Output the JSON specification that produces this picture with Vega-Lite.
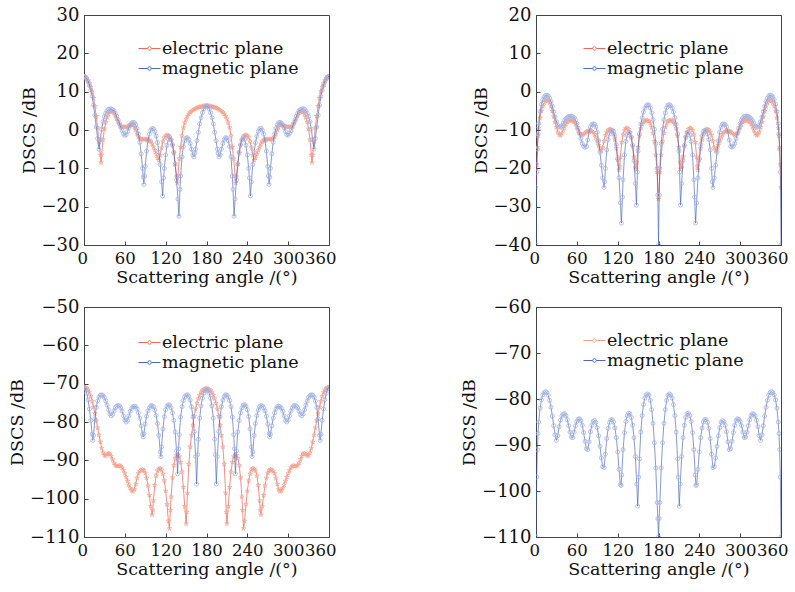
{
"$schema":"https://vega.github.io/schema/vega-lite/v6.json",
"background":"white",
"padding":{"left":8,"top":5,"right":0,"bottom":2},
"config":{"font":"DejaVu Serif","view":{"stroke":"#444","strokeWidth":1},
"axis":{"grid":false,"domainColor":"#444","tickColor":"#444","tickSize":-4,"labelOverlap":false,"labelPadding":6,"labelFontSize":18,"titleFontSize":17.5,"labelFont":"DejaVu Serif","titleFont":"DejaVu Serif","titleFontWeight":"normal","labelColor":"#111","titleColor":"#111","titlePadding":4},
"axisX":{"labelFlush":true,"labelFlushOffset":7,"labelFontSize":16.5,"labelPadding":9,"titlePadding":2},
"axisY":{"labelPadding":9,"titlePadding":3,"labelFlush":false},
"legend":{"orient":"none","title":null,"padding":0,"rowPadding":0,"labelOffset":1,"labelFontSize":17.5,"labelFont":"DejaVu Serif","labelColor":"#111","labelLimit":0,"symbolSize":484,"symbolStrokeWidth":1,"symbolFillColor":"transparent","symbolType":"M-1,0H-0.18M0.18,0H1M0.16,0A0.16,0.16,0,1,1,-0.16,0A0.16,0.16,0,1,1,0.16,0"}},
"datasets":{
"aM":[{"x":0,"y":14},{"x":2,"y":13.8},{"x":4,"y":13.3},{"x":6,"y":12.6},{"x":8,"y":11.6},{"x":10,"y":10.4},{"x":12,"y":8.8},{"x":14,"y":6.5},{"x":16,"y":3.8},{"x":18,"y":0.8},{"x":20,"y":-2.2},{"x":22,"y":-5},{"x":24,"y":-2.5},{"x":26,"y":0.2},{"x":28,"y":2.2},{"x":30,"y":3.5},{"x":32,"y":4.4},{"x":34,"y":5},{"x":36,"y":5.4},{"x":38,"y":5.5},{"x":40,"y":5.5},{"x":42,"y":5.3},{"x":44,"y":5},{"x":46,"y":4.4},{"x":48,"y":3.6},{"x":50,"y":2.7},{"x":52,"y":1.7},{"x":54,"y":0.7},{"x":56,"y":-0.2},{"x":58,"y":-0.9},{"x":60,"y":-1.4},{"x":62,"y":-1.2},{"x":64,"y":-0.4},{"x":66,"y":0.6},{"x":68,"y":1.3},{"x":70,"y":1.8},{"x":72,"y":2},{"x":74,"y":1.9},{"x":76,"y":1.4},{"x":78,"y":0.4},{"x":80,"y":-1},{"x":82,"y":-3.2},{"x":84,"y":-6.2},{"x":86,"y":-10},{"x":87,"y":-12.3},{"x":88,"y":-14.2},{"x":89,"y":-12},{"x":90,"y":-9.5},{"x":92,"y":-5.5},{"x":94,"y":-2.8},{"x":96,"y":-1.1},{"x":98,"y":-0.1},{"x":100,"y":0.4},{"x":102,"y":0.3},{"x":104,"y":-0.4},{"x":106,"y":-1.6},{"x":108,"y":-3.3},{"x":110,"y":-5.8},{"x":112,"y":-9},{"x":114,"y":-13.5},{"x":115.5,"y":-17.2},{"x":117,"y":-12.5},{"x":118,"y":-10},{"x":120,"y":-6.5},{"x":122,"y":-4},{"x":124,"y":-2.4},{"x":126,"y":-2},{"x":128,"y":-2.5},{"x":130,"y":-3.8},{"x":132,"y":-5.8},{"x":134,"y":-9},{"x":136,"y":-13},{"x":138,"y":-18},{"x":139.5,"y":-22.5},{"x":141,"y":-15.5},{"x":142,"y":-12},{"x":144,"y":-7},{"x":146,"y":-4.3},{"x":148,"y":-2.8},{"x":150,"y":-2.1},{"x":152,"y":-2},{"x":154,"y":-2.5},{"x":156,"y":-3.5},{"x":158,"y":-5},{"x":160,"y":-6.5},{"x":161.6,"y":-7},{"x":163,"y":-6},{"x":164,"y":-5},{"x":166,"y":-2.8},{"x":168,"y":-0.6},{"x":170,"y":1.6},{"x":172,"y":3.2},{"x":174,"y":4.5},{"x":176,"y":5.5},{"x":178,"y":6.1},{"x":180,"y":6.3},
{"x":182,"y":6.1},{"x":184,"y":5.5},{"x":186,"y":4.5},{"x":188,"y":3.2},{"x":190,"y":1.6},{"x":192,"y":-0.6},{"x":194,"y":-2.8},{"x":196,"y":-5},{"x":197,"y":-6},{"x":198.4,"y":-7},{"x":200,"y":-6.5},{"x":202,"y":-5},{"x":204,"y":-3.5},{"x":206,"y":-2.5},{"x":208,"y":-2},{"x":210,"y":-2.1},{"x":212,"y":-2.8},{"x":214,"y":-4.3},{"x":216,"y":-7},{"x":218,"y":-12},{"x":219,"y":-15.5},{"x":220.5,"y":-22.5},{"x":222,"y":-18},{"x":224,"y":-13},{"x":226,"y":-9},{"x":228,"y":-5.8},{"x":230,"y":-3.8},{"x":232,"y":-2.5},{"x":234,"y":-2},{"x":236,"y":-2.4},{"x":238,"y":-4},{"x":240,"y":-6.5},{"x":242,"y":-10},{"x":243,"y":-12.5},{"x":244.5,"y":-17.2},{"x":246,"y":-13.5},{"x":248,"y":-9},{"x":250,"y":-5.8},{"x":252,"y":-3.3},{"x":254,"y":-1.6},{"x":256,"y":-0.4},{"x":258,"y":0.3},{"x":260,"y":0.4},{"x":262,"y":-0.1},{"x":264,"y":-1.1},{"x":266,"y":-2.8},{"x":268,"y":-5.5},{"x":270,"y":-9.5},{"x":271,"y":-12},{"x":272,"y":-14.2},{"x":273,"y":-12.3},{"x":274,"y":-10},{"x":276,"y":-6.2},{"x":278,"y":-3.2},{"x":280,"y":-1},{"x":282,"y":0.4},{"x":284,"y":1.4},{"x":286,"y":1.9},{"x":288,"y":2},{"x":290,"y":1.8},{"x":292,"y":1.3},{"x":294,"y":0.6},{"x":296,"y":-0.4},{"x":298,"y":-1.2},{"x":300,"y":-1.4},{"x":302,"y":-0.9},{"x":304,"y":-0.2},{"x":306,"y":0.7},{"x":308,"y":1.7},{"x":310,"y":2.7},{"x":312,"y":3.6},{"x":314,"y":4.4},{"x":316,"y":5},{"x":318,"y":5.3},{"x":320,"y":5.5},{"x":322,"y":5.5},{"x":324,"y":5.4},{"x":326,"y":5},{"x":328,"y":4.4},{"x":330,"y":3.5},{"x":332,"y":2.2},{"x":334,"y":0.2},{"x":336,"y":-2.5},{"x":338,"y":-5},{"x":340,"y":-2.2},{"x":342,"y":0.8},{"x":344,"y":3.8},{"x":346,"y":6.5},{"x":348,"y":8.8},{"x":350,"y":10.4},{"x":352,"y":11.6},{"x":354,"y":12.6},{"x":356,"y":13.3},{"x":358,"y":13.8},{"x":360,"y":14}],
"aE":[{"x":0,"y":14},{"x":2,"y":13.9},{"x":4,"y":13.5},{"x":6,"y":12.9},{"x":8,"y":12.1},{"x":10,"y":11.2},{"x":12,"y":10},{"x":14,"y":8.3},{"x":16,"y":6.2},{"x":18,"y":3.6},{"x":20,"y":0.6},{"x":22,"y":-3},{"x":24,"y":-6.5},{"x":25,"y":-8.5},{"x":26,"y":-6.5},{"x":28,"y":-2.5},{"x":30,"y":0.3},{"x":32,"y":2},{"x":34,"y":3.3},{"x":36,"y":4.2},{"x":38,"y":4.7},{"x":40,"y":4.9},{"x":42,"y":4.8},{"x":44,"y":4.4},{"x":46,"y":3.8},{"x":48,"y":3},{"x":50,"y":2.2},{"x":52,"y":1.5},{"x":54,"y":1},{"x":56,"y":0.8},{"x":58,"y":0.8},{"x":60,"y":0.8},{"x":62,"y":0.8},{"x":64,"y":0.9},{"x":66,"y":1.1},{"x":68,"y":1.3},{"x":70,"y":1.4},{"x":72,"y":1.2},{"x":74,"y":0.8},{"x":76,"y":0},{"x":78,"y":-1},{"x":80,"y":-1.8},{"x":82,"y":-2.2},{"x":84,"y":-2.4},{"x":86,"y":-2.4},{"x":88,"y":-2.4},{"x":90,"y":-2.4},{"x":92,"y":-2.4},{"x":94,"y":-2.4},{"x":96,"y":-2.6},{"x":98,"y":-3},{"x":100,"y":-3.6},{"x":102,"y":-4.4},{"x":104,"y":-5.3},{"x":106,"y":-6.3},{"x":108,"y":-7.3},{"x":110,"y":-7.9},{"x":112,"y":-6.6},{"x":114,"y":-4.6},{"x":116,"y":-3},{"x":118,"y":-2},{"x":120,"y":-1.5},{"x":122,"y":-1.3},{"x":124,"y":-1.4},{"x":126,"y":-1.8},{"x":128,"y":-2.7},{"x":130,"y":-4},{"x":132,"y":-6},{"x":134,"y":-8.8},{"x":136,"y":-12.2},{"x":137,"y":-13.8},{"x":138,"y":-12},{"x":140,"y":-7.5},{"x":142,"y":-4.5},{"x":144,"y":-1.5},{"x":146,"y":0.6},{"x":148,"y":1.9},{"x":150,"y":2.9},{"x":152,"y":3.6},{"x":154,"y":4.2},{"x":156,"y":4.6},{"x":158,"y":4.9},{"x":160,"y":5.2},{"x":162,"y":5.4},{"x":164,"y":5.6},{"x":166,"y":5.8},{"x":168,"y":5.9},{"x":170,"y":6},{"x":172,"y":6.1},{"x":174,"y":6.2},{"x":176,"y":6.3},{"x":178,"y":6.3},{"x":180,"y":6.3},
{"x":182,"y":6.3},{"x":184,"y":6.3},{"x":186,"y":6.2},{"x":188,"y":6.1},{"x":190,"y":6},{"x":192,"y":5.9},{"x":194,"y":5.8},{"x":196,"y":5.6},{"x":198,"y":5.4},{"x":200,"y":5.2},{"x":202,"y":4.9},{"x":204,"y":4.6},{"x":206,"y":4.2},{"x":208,"y":3.6},{"x":210,"y":2.9},{"x":212,"y":1.9},{"x":214,"y":0.6},{"x":216,"y":-1.5},{"x":218,"y":-4.5},{"x":220,"y":-7.5},{"x":222,"y":-12},{"x":223,"y":-13.8},{"x":224,"y":-12.2},{"x":226,"y":-8.8},{"x":228,"y":-6},{"x":230,"y":-4},{"x":232,"y":-2.7},{"x":234,"y":-1.8},{"x":236,"y":-1.4},{"x":238,"y":-1.3},{"x":240,"y":-1.5},{"x":242,"y":-2},{"x":244,"y":-3},{"x":246,"y":-4.6},{"x":248,"y":-6.6},{"x":250,"y":-7.9},{"x":252,"y":-7.3},{"x":254,"y":-6.3},{"x":256,"y":-5.3},{"x":258,"y":-4.4},{"x":260,"y":-3.6},{"x":262,"y":-3},{"x":264,"y":-2.6},{"x":266,"y":-2.4},{"x":268,"y":-2.4},{"x":270,"y":-2.4},{"x":272,"y":-2.4},{"x":274,"y":-2.4},{"x":276,"y":-2.4},{"x":278,"y":-2.2},{"x":280,"y":-1.8},{"x":282,"y":-1},{"x":284,"y":0},{"x":286,"y":0.8},{"x":288,"y":1.2},{"x":290,"y":1.4},{"x":292,"y":1.3},{"x":294,"y":1.1},{"x":296,"y":0.9},{"x":298,"y":0.8},{"x":300,"y":0.8},{"x":302,"y":0.8},{"x":304,"y":0.8},{"x":306,"y":1},{"x":308,"y":1.5},{"x":310,"y":2.2},{"x":312,"y":3},{"x":314,"y":3.8},{"x":316,"y":4.4},{"x":318,"y":4.8},{"x":320,"y":4.9},{"x":322,"y":4.7},{"x":324,"y":4.2},{"x":326,"y":3.3},{"x":328,"y":2},{"x":330,"y":0.3},{"x":332,"y":-2.5},{"x":334,"y":-6.5},{"x":335,"y":-8.5},{"x":336,"y":-6.5},{"x":338,"y":-3},{"x":340,"y":0.6},{"x":342,"y":3.6},{"x":344,"y":6.2},{"x":346,"y":8.3},{"x":348,"y":10},{"x":350,"y":11.2},{"x":352,"y":12.1},{"x":354,"y":12.9},{"x":356,"y":13.5},{"x":358,"y":13.9},{"x":360,"y":14}],
"bM":[{"x":0,"y":-40},{"x":1,"y":-21},{"x":2,"y":-15},{"x":3,"y":-11},{"x":4,"y":-8.3},{"x":6,"y":-5.2},{"x":8,"y":-3.3},{"x":10,"y":-2.1},{"x":12,"y":-1.4},{"x":14,"y":-1},{"x":16,"y":-0.9},{"x":18,"y":-1.1},{"x":20,"y":-1.7},{"x":22,"y":-2.6},{"x":24,"y":-3.8},{"x":26,"y":-5.2},{"x":28,"y":-6.6},{"x":30,"y":-7.8},{"x":32,"y":-8.7},{"x":34,"y":-9.2},{"x":36,"y":-9.3},{"x":38,"y":-8.9},{"x":40,"y":-8.2},{"x":42,"y":-7.5},{"x":44,"y":-7},{"x":46,"y":-6.7},{"x":48,"y":-6.5},{"x":50,"y":-6.4},{"x":52,"y":-6.4},{"x":54,"y":-6.5},{"x":56,"y":-6.8},{"x":58,"y":-7.4},{"x":60,"y":-8.3},{"x":62,"y":-9.5},{"x":64,"y":-10.9},{"x":66,"y":-12.3},{"x":68,"y":-13.5},{"x":70,"y":-14.2},{"x":72,"y":-14.5},{"x":74,"y":-14.3},{"x":76,"y":-12.6},{"x":78,"y":-10.5},{"x":80,"y":-9.2},{"x":82,"y":-8.6},{"x":84,"y":-8.4},{"x":86,"y":-8.5},{"x":88,"y":-9.2},{"x":90,"y":-10.6},{"x":92,"y":-12.8},{"x":94,"y":-15.8},{"x":96,"y":-19.2},{"x":98,"y":-22.5},{"x":100,"y":-25},{"x":101,"y":-23.5},{"x":102,"y":-20},{"x":104,"y":-15.2},{"x":106,"y":-12.5},{"x":108,"y":-11},{"x":110,"y":-10.3},{"x":112,"y":-10.1},{"x":114,"y":-10.4},{"x":116,"y":-11.6},{"x":118,"y":-13.8},{"x":120,"y":-17.5},{"x":122,"y":-22.5},{"x":124,"y":-29},{"x":125.5,"y":-34.3},{"x":127,"y":-27.5},{"x":128,"y":-23},{"x":130,"y":-16.5},{"x":132,"y":-13},{"x":134,"y":-11.3},{"x":136,"y":-10.6},{"x":138,"y":-10.7},{"x":140,"y":-11.8},{"x":142,"y":-14},{"x":144,"y":-18},{"x":146,"y":-24},{"x":147.6,"y":-29.6},{"x":149,"y":-21},{"x":150,"y":-15.5},{"x":152,"y":-11},{"x":154,"y":-8.5},{"x":156,"y":-6.8},{"x":158,"y":-5.3},{"x":160,"y":-4.3},{"x":162,"y":-3.7},{"x":164,"y":-3.4},{"x":166,"y":-3.5},{"x":168,"y":-4.2},{"x":170,"y":-5.5},{"x":172,"y":-7.3},{"x":174,"y":-9.8},{"x":176,"y":-13.5},{"x":178,"y":-20},{"x":179,"y":-27},{"x":180,"y":-40},
{"x":181,"y":-27},{"x":182,"y":-20},{"x":184,"y":-13.5},{"x":186,"y":-9.8},{"x":188,"y":-7.3},{"x":190,"y":-5.5},{"x":192,"y":-4.2},{"x":194,"y":-3.5},{"x":196,"y":-3.4},{"x":198,"y":-3.7},{"x":200,"y":-4.3},{"x":202,"y":-5.3},{"x":204,"y":-6.8},{"x":206,"y":-8.5},{"x":208,"y":-11},{"x":210,"y":-15.5},{"x":211,"y":-21},{"x":212.4,"y":-29.6},{"x":214,"y":-24},{"x":216,"y":-18},{"x":218,"y":-14},{"x":220,"y":-11.8},{"x":222,"y":-10.7},{"x":224,"y":-10.6},{"x":226,"y":-11.3},{"x":228,"y":-13},{"x":230,"y":-16.5},{"x":232,"y":-23},{"x":233,"y":-27.5},{"x":234.5,"y":-34.3},{"x":236,"y":-29},{"x":238,"y":-22.5},{"x":240,"y":-17.5},{"x":242,"y":-13.8},{"x":244,"y":-11.6},{"x":246,"y":-10.4},{"x":248,"y":-10.1},{"x":250,"y":-10.3},{"x":252,"y":-11},{"x":254,"y":-12.5},{"x":256,"y":-15.2},{"x":258,"y":-20},{"x":259,"y":-23.5},{"x":260,"y":-25},{"x":262,"y":-22.5},{"x":264,"y":-19.2},{"x":266,"y":-15.8},{"x":268,"y":-12.8},{"x":270,"y":-10.6},{"x":272,"y":-9.2},{"x":274,"y":-8.5},{"x":276,"y":-8.4},{"x":278,"y":-8.6},{"x":280,"y":-9.2},{"x":282,"y":-10.5},{"x":284,"y":-12.6},{"x":286,"y":-14.3},{"x":288,"y":-14.5},{"x":290,"y":-14.2},{"x":292,"y":-13.5},{"x":294,"y":-12.3},{"x":296,"y":-10.9},{"x":298,"y":-9.5},{"x":300,"y":-8.3},{"x":302,"y":-7.4},{"x":304,"y":-6.8},{"x":306,"y":-6.5},{"x":308,"y":-6.4},{"x":310,"y":-6.4},{"x":312,"y":-6.5},{"x":314,"y":-6.7},{"x":316,"y":-7},{"x":318,"y":-7.5},{"x":320,"y":-8.2},{"x":322,"y":-8.9},{"x":324,"y":-9.3},{"x":326,"y":-9.2},{"x":328,"y":-8.7},{"x":330,"y":-7.8},{"x":332,"y":-6.6},{"x":334,"y":-5.2},{"x":336,"y":-3.8},{"x":338,"y":-2.6},{"x":340,"y":-1.7},{"x":342,"y":-1.1},{"x":344,"y":-0.9},{"x":346,"y":-1},{"x":348,"y":-1.4},{"x":350,"y":-2.1},{"x":352,"y":-3.3},{"x":354,"y":-5.2},{"x":356,"y":-8.3},{"x":357,"y":-11},{"x":358,"y":-15},{"x":359,"y":-21},{"x":360,"y":-40}],
"bE":[{"x":0,"y":-25},{"x":1,"y":-19},{"x":2,"y":-14.5},{"x":3,"y":-11.5},{"x":4,"y":-9.5},{"x":6,"y":-6.8},{"x":8,"y":-5},{"x":10,"y":-3.8},{"x":12,"y":-2.9},{"x":14,"y":-2.4},{"x":16,"y":-2.1},{"x":18,"y":-2.3},{"x":20,"y":-2.9},{"x":22,"y":-3.9},{"x":24,"y":-5.1},{"x":26,"y":-6.5},{"x":28,"y":-7.9},{"x":30,"y":-9.3},{"x":32,"y":-10.5},{"x":34,"y":-11.2},{"x":36,"y":-11.4},{"x":38,"y":-10.9},{"x":40,"y":-10},{"x":42,"y":-9.1},{"x":44,"y":-8.4},{"x":46,"y":-7.9},{"x":48,"y":-7.6},{"x":50,"y":-7.5},{"x":52,"y":-7.5},{"x":54,"y":-7.6},{"x":56,"y":-7.9},{"x":58,"y":-8.5},{"x":60,"y":-9.3},{"x":62,"y":-10.1},{"x":64,"y":-10.8},{"x":66,"y":-11.2},{"x":68,"y":-11.3},{"x":70,"y":-11.1},{"x":72,"y":-10.8},{"x":74,"y":-10.5},{"x":76,"y":-10.3},{"x":78,"y":-10.2},{"x":80,"y":-10.2},{"x":82,"y":-10.3},{"x":84,"y":-10.6},{"x":86,"y":-11.2},{"x":88,"y":-12},{"x":90,"y":-13},{"x":92,"y":-14},{"x":94,"y":-14.9},{"x":96,"y":-15.4},{"x":98,"y":-14.6},{"x":100,"y":-12.9},{"x":102,"y":-11.4},{"x":104,"y":-10.5},{"x":106,"y":-10},{"x":108,"y":-9.8},{"x":110,"y":-9.8},{"x":112,"y":-10.1},{"x":114,"y":-11},{"x":116,"y":-12.5},{"x":118,"y":-14.8},{"x":120,"y":-17.8},{"x":122,"y":-20.4},{"x":123,"y":-19.5},{"x":124,"y":-17},{"x":126,"y":-13.2},{"x":128,"y":-11.2},{"x":130,"y":-10.1},{"x":132,"y":-9.6},{"x":134,"y":-9.5},{"x":136,"y":-9.8},{"x":138,"y":-10.6},{"x":140,"y":-12},{"x":142,"y":-14.2},{"x":144,"y":-17},{"x":146,"y":-19.8},{"x":147,"y":-20.2},{"x":148,"y":-18.5},{"x":150,"y":-14.5},{"x":152,"y":-11.5},{"x":154,"y":-9.6},{"x":156,"y":-8.5},{"x":158,"y":-7.9},{"x":160,"y":-7.6},{"x":162,"y":-7.5},{"x":164,"y":-7.5},{"x":166,"y":-7.7},{"x":168,"y":-8.3},{"x":170,"y":-9.3},{"x":172,"y":-10.8},{"x":174,"y":-13},{"x":176,"y":-16.5},{"x":178,"y":-21},{"x":180,"y":-28},
{"x":182,"y":-21},{"x":184,"y":-16.5},{"x":186,"y":-13},{"x":188,"y":-10.8},{"x":190,"y":-9.3},{"x":192,"y":-8.3},{"x":194,"y":-7.7},{"x":196,"y":-7.5},{"x":198,"y":-7.5},{"x":200,"y":-7.6},{"x":202,"y":-7.9},{"x":204,"y":-8.5},{"x":206,"y":-9.6},{"x":208,"y":-11.5},{"x":210,"y":-14.5},{"x":212,"y":-18.5},{"x":213,"y":-20.2},{"x":214,"y":-19.8},{"x":216,"y":-17},{"x":218,"y":-14.2},{"x":220,"y":-12},{"x":222,"y":-10.6},{"x":224,"y":-9.8},{"x":226,"y":-9.5},{"x":228,"y":-9.6},{"x":230,"y":-10.1},{"x":232,"y":-11.2},{"x":234,"y":-13.2},{"x":236,"y":-17},{"x":237,"y":-19.5},{"x":238,"y":-20.4},{"x":240,"y":-17.8},{"x":242,"y":-14.8},{"x":244,"y":-12.5},{"x":246,"y":-11},{"x":248,"y":-10.1},{"x":250,"y":-9.8},{"x":252,"y":-9.8},{"x":254,"y":-10},{"x":256,"y":-10.5},{"x":258,"y":-11.4},{"x":260,"y":-12.9},{"x":262,"y":-14.6},{"x":264,"y":-15.4},{"x":266,"y":-14.9},{"x":268,"y":-14},{"x":270,"y":-13},{"x":272,"y":-12},{"x":274,"y":-11.2},{"x":276,"y":-10.6},{"x":278,"y":-10.3},{"x":280,"y":-10.2},{"x":282,"y":-10.2},{"x":284,"y":-10.3},{"x":286,"y":-10.5},{"x":288,"y":-10.8},{"x":290,"y":-11.1},{"x":292,"y":-11.3},{"x":294,"y":-11.2},{"x":296,"y":-10.8},{"x":298,"y":-10.1},{"x":300,"y":-9.3},{"x":302,"y":-8.5},{"x":304,"y":-7.9},{"x":306,"y":-7.6},{"x":308,"y":-7.5},{"x":310,"y":-7.5},{"x":312,"y":-7.6},{"x":314,"y":-7.9},{"x":316,"y":-8.4},{"x":318,"y":-9.1},{"x":320,"y":-10},{"x":322,"y":-10.9},{"x":324,"y":-11.4},{"x":326,"y":-11.2},{"x":328,"y":-10.5},{"x":330,"y":-9.3},{"x":332,"y":-7.9},{"x":334,"y":-6.5},{"x":336,"y":-5.1},{"x":338,"y":-3.9},{"x":340,"y":-2.9},{"x":342,"y":-2.3},{"x":344,"y":-2.1},{"x":346,"y":-2.4},{"x":348,"y":-2.9},{"x":350,"y":-3.8},{"x":352,"y":-5},{"x":354,"y":-6.8},{"x":356,"y":-9.5},{"x":357,"y":-11.5},{"x":358,"y":-14.5},{"x":359,"y":-19},{"x":360,"y":-25}],
"cM":[{"x":0,"y":-70.9},{"x":2,"y":-71.4},{"x":4,"y":-72.5},{"x":6,"y":-74.2},{"x":8,"y":-76.6},{"x":10,"y":-79.6},{"x":12,"y":-83.2},{"x":13,"y":-84.8},{"x":14,"y":-83.5},{"x":16,"y":-79.2},{"x":18,"y":-76.2},{"x":20,"y":-74.5},{"x":22,"y":-73.5},{"x":24,"y":-73},{"x":26,"y":-72.9},{"x":28,"y":-73.1},{"x":30,"y":-73.6},{"x":32,"y":-74.5},{"x":34,"y":-75.6},{"x":36,"y":-76.8},{"x":38,"y":-77.9},{"x":40,"y":-78.4},{"x":42,"y":-78},{"x":44,"y":-77.1},{"x":46,"y":-76.3},{"x":48,"y":-75.9},{"x":50,"y":-75.7},{"x":52,"y":-75.8},{"x":54,"y":-76.3},{"x":56,"y":-77.2},{"x":58,"y":-78.4},{"x":60,"y":-79.5},{"x":62,"y":-80},{"x":64,"y":-79.6},{"x":66,"y":-78.4},{"x":68,"y":-77.2},{"x":70,"y":-76.4},{"x":72,"y":-76},{"x":74,"y":-75.9},{"x":76,"y":-76},{"x":78,"y":-76.6},{"x":80,"y":-77.6},{"x":82,"y":-79},{"x":84,"y":-81},{"x":86,"y":-83.2},{"x":87,"y":-83.9},{"x":88,"y":-83},{"x":90,"y":-80.5},{"x":92,"y":-78.5},{"x":94,"y":-77.1},{"x":96,"y":-76.3},{"x":98,"y":-75.8},{"x":100,"y":-75.7},{"x":102,"y":-76},{"x":104,"y":-76.9},{"x":106,"y":-78.3},{"x":108,"y":-80.4},{"x":110,"y":-83.5},{"x":112,"y":-87.8},{"x":113,"y":-89},{"x":114,"y":-86.5},{"x":116,"y":-81.8},{"x":118,"y":-78.6},{"x":120,"y":-76.8},{"x":122,"y":-75.9},{"x":124,"y":-75.5},{"x":126,"y":-75.6},{"x":128,"y":-76.3},{"x":130,"y":-77.6},{"x":132,"y":-79.6},{"x":134,"y":-82.6},{"x":136,"y":-87.5},{"x":137.5,"y":-93.5},{"x":139,"y":-87},{"x":140,"y":-83.3},{"x":142,"y":-78.7},{"x":144,"y":-76},{"x":146,"y":-74.4},{"x":148,"y":-73.5},{"x":150,"y":-73},{"x":152,"y":-72.9},{"x":154,"y":-73.3},{"x":156,"y":-74.3},{"x":158,"y":-76},{"x":160,"y":-78.6},{"x":162,"y":-82.5},{"x":164,"y":-89},{"x":165.5,"y":-96.2},{"x":167,"y":-88.5},{"x":168,"y":-84.5},{"x":170,"y":-79},{"x":172,"y":-75.8},{"x":174,"y":-73.8},{"x":176,"y":-72.5},{"x":178,"y":-71.8},{"x":180,"y":-71.5},
{"x":182,"y":-71.8},{"x":184,"y":-72.5},{"x":186,"y":-73.8},{"x":188,"y":-75.8},{"x":190,"y":-79},{"x":192,"y":-84.5},{"x":193,"y":-88.5},{"x":194.5,"y":-96.2},{"x":196,"y":-89},{"x":198,"y":-82.5},{"x":200,"y":-78.6},{"x":202,"y":-76},{"x":204,"y":-74.3},{"x":206,"y":-73.3},{"x":208,"y":-72.9},{"x":210,"y":-73},{"x":212,"y":-73.5},{"x":214,"y":-74.4},{"x":216,"y":-76},{"x":218,"y":-78.7},{"x":220,"y":-83.3},{"x":221,"y":-87},{"x":222.5,"y":-93.5},{"x":224,"y":-87.5},{"x":226,"y":-82.6},{"x":228,"y":-79.6},{"x":230,"y":-77.6},{"x":232,"y":-76.3},{"x":234,"y":-75.6},{"x":236,"y":-75.5},{"x":238,"y":-75.9},{"x":240,"y":-76.8},{"x":242,"y":-78.6},{"x":244,"y":-81.8},{"x":246,"y":-86.5},{"x":247,"y":-89},{"x":248,"y":-87.8},{"x":250,"y":-83.5},{"x":252,"y":-80.4},{"x":254,"y":-78.3},{"x":256,"y":-76.9},{"x":258,"y":-76},{"x":260,"y":-75.7},{"x":262,"y":-75.8},{"x":264,"y":-76.3},{"x":266,"y":-77.1},{"x":268,"y":-78.5},{"x":270,"y":-80.5},{"x":272,"y":-83},{"x":273,"y":-83.9},{"x":274,"y":-83.2},{"x":276,"y":-81},{"x":278,"y":-79},{"x":280,"y":-77.6},{"x":282,"y":-76.6},{"x":284,"y":-76},{"x":286,"y":-75.9},{"x":288,"y":-76},{"x":290,"y":-76.4},{"x":292,"y":-77.2},{"x":294,"y":-78.4},{"x":296,"y":-79.6},{"x":298,"y":-80},{"x":300,"y":-79.5},{"x":302,"y":-78.4},{"x":304,"y":-77.2},{"x":306,"y":-76.3},{"x":308,"y":-75.8},{"x":310,"y":-75.7},{"x":312,"y":-75.9},{"x":314,"y":-76.3},{"x":316,"y":-77.1},{"x":318,"y":-78},{"x":320,"y":-78.4},{"x":322,"y":-77.9},{"x":324,"y":-76.8},{"x":326,"y":-75.6},{"x":328,"y":-74.5},{"x":330,"y":-73.6},{"x":332,"y":-73.1},{"x":334,"y":-72.9},{"x":336,"y":-73},{"x":338,"y":-73.5},{"x":340,"y":-74.5},{"x":342,"y":-76.2},{"x":344,"y":-79.2},{"x":346,"y":-83.5},{"x":347,"y":-84.8},{"x":348,"y":-83.2},{"x":350,"y":-79.6},{"x":352,"y":-76.6},{"x":354,"y":-74.2},{"x":356,"y":-72.5},{"x":358,"y":-71.4},{"x":360,"y":-70.9}],
"cE":[{"x":0,"y":-71},{"x":2,"y":-71},{"x":4,"y":-71.2},{"x":6,"y":-71.6},{"x":8,"y":-72.3},{"x":10,"y":-73.3},{"x":12,"y":-74.6},{"x":14,"y":-76.1},{"x":16,"y":-77.8},{"x":18,"y":-79.6},{"x":20,"y":-81.5},{"x":22,"y":-83.4},{"x":24,"y":-85.2},{"x":26,"y":-86.8},{"x":28,"y":-88},{"x":30,"y":-88.7},{"x":32,"y":-88.8},{"x":34,"y":-88.4},{"x":36,"y":-88.2},{"x":38,"y":-88.3},{"x":40,"y":-88.9},{"x":42,"y":-89.8},{"x":44,"y":-90.7},{"x":46,"y":-91.3},{"x":48,"y":-91.5},{"x":50,"y":-91.5},{"x":52,"y":-91.4},{"x":54,"y":-91.5},{"x":56,"y":-91.9},{"x":58,"y":-92.6},{"x":60,"y":-93.4},{"x":62,"y":-94.4},{"x":64,"y":-95.4},{"x":66,"y":-96.4},{"x":68,"y":-97.3},{"x":70,"y":-97.9},{"x":72,"y":-98.1},{"x":74,"y":-97.6},{"x":76,"y":-96.2},{"x":78,"y":-94.6},{"x":80,"y":-93.4},{"x":82,"y":-92.8},{"x":84,"y":-92.5},{"x":86,"y":-92.4},{"x":88,"y":-92.6},{"x":90,"y":-93.3},{"x":92,"y":-94.6},{"x":94,"y":-96.6},{"x":96,"y":-99.1},{"x":98,"y":-102},{"x":100,"y":-104.2},{"x":101,"y":-103},{"x":102,"y":-100.5},{"x":104,"y":-96.5},{"x":106,"y":-94},{"x":108,"y":-92.7},{"x":110,"y":-92.2},{"x":112,"y":-92.1},{"x":114,"y":-92.5},{"x":116,"y":-93.5},{"x":118,"y":-95.3},{"x":120,"y":-98},{"x":122,"y":-101.5},{"x":124,"y":-105.8},{"x":125.5,"y":-107.8},{"x":127,"y":-103},{"x":128,"y":-99.5},{"x":130,"y":-94.5},{"x":132,"y":-91.3},{"x":134,"y":-89.5},{"x":136,"y":-88.7},{"x":138,"y":-88.5},{"x":140,"y":-89},{"x":142,"y":-90.5},{"x":144,"y":-93},{"x":146,"y":-97},{"x":148,"y":-102},{"x":150,"y":-106.5},{"x":151,"y":-103.5},{"x":152,"y":-98.5},{"x":154,"y":-91},{"x":156,"y":-86.5},{"x":158,"y":-83.5},{"x":160,"y":-80.8},{"x":162,"y":-78.5},{"x":164,"y":-76.6},{"x":166,"y":-75.1},{"x":168,"y":-73.9},{"x":170,"y":-73},{"x":172,"y":-72.3},{"x":174,"y":-71.8},{"x":176,"y":-71.5},{"x":178,"y":-71.3},{"x":180,"y":-71.3},
{"x":182,"y":-71.3},{"x":184,"y":-71.5},{"x":186,"y":-71.8},{"x":188,"y":-72.3},{"x":190,"y":-73},{"x":192,"y":-73.9},{"x":194,"y":-75.1},{"x":196,"y":-76.6},{"x":198,"y":-78.5},{"x":200,"y":-80.8},{"x":202,"y":-83.5},{"x":204,"y":-86.5},{"x":206,"y":-91},{"x":208,"y":-98.5},{"x":209,"y":-103.5},{"x":210,"y":-106.5},{"x":212,"y":-102},{"x":214,"y":-97},{"x":216,"y":-93},{"x":218,"y":-90.5},{"x":220,"y":-89},{"x":222,"y":-88.5},{"x":224,"y":-88.7},{"x":226,"y":-89.5},{"x":228,"y":-91.3},{"x":230,"y":-94.5},{"x":232,"y":-99.5},{"x":233,"y":-103},{"x":234.5,"y":-107.8},{"x":236,"y":-105.8},{"x":238,"y":-101.5},{"x":240,"y":-98},{"x":242,"y":-95.3},{"x":244,"y":-93.5},{"x":246,"y":-92.5},{"x":248,"y":-92.1},{"x":250,"y":-92.2},{"x":252,"y":-92.7},{"x":254,"y":-94},{"x":256,"y":-96.5},{"x":258,"y":-100.5},{"x":259,"y":-103},{"x":260,"y":-104.2},{"x":262,"y":-102},{"x":264,"y":-99.1},{"x":266,"y":-96.6},{"x":268,"y":-94.6},{"x":270,"y":-93.3},{"x":272,"y":-92.6},{"x":274,"y":-92.4},{"x":276,"y":-92.5},{"x":278,"y":-92.8},{"x":280,"y":-93.4},{"x":282,"y":-94.6},{"x":284,"y":-96.2},{"x":286,"y":-97.6},{"x":288,"y":-98.1},{"x":290,"y":-97.9},{"x":292,"y":-97.3},{"x":294,"y":-96.4},{"x":296,"y":-95.4},{"x":298,"y":-94.4},{"x":300,"y":-93.4},{"x":302,"y":-92.6},{"x":304,"y":-91.9},{"x":306,"y":-91.5},{"x":308,"y":-91.4},{"x":310,"y":-91.5},{"x":312,"y":-91.5},{"x":314,"y":-91.3},{"x":316,"y":-90.7},{"x":318,"y":-89.8},{"x":320,"y":-88.9},{"x":322,"y":-88.3},{"x":324,"y":-88.2},{"x":326,"y":-88.4},{"x":328,"y":-88.8},{"x":330,"y":-88.7},{"x":332,"y":-88},{"x":334,"y":-86.8},{"x":336,"y":-85.2},{"x":338,"y":-83.4},{"x":340,"y":-81.5},{"x":342,"y":-79.6},{"x":344,"y":-77.8},{"x":346,"y":-76.1},{"x":348,"y":-74.6},{"x":350,"y":-73.3},{"x":352,"y":-72.3},{"x":354,"y":-71.6},{"x":356,"y":-71.2},{"x":358,"y":-71},{"x":360,"y":-71}],
"d":[{"x":0,"y":-110},{"x":1,"y":-97},{"x":2,"y":-91},{"x":3,"y":-87.5},{"x":4,"y":-85},{"x":6,"y":-82},{"x":8,"y":-80.2},{"x":10,"y":-79.1},{"x":12,"y":-78.6},{"x":14,"y":-78.4},{"x":16,"y":-78.6},{"x":18,"y":-79.2},{"x":20,"y":-80.3},{"x":22,"y":-81.8},{"x":24,"y":-83.7},{"x":26,"y":-85.8},{"x":28,"y":-87.8},{"x":30,"y":-89},{"x":32,"y":-88},{"x":34,"y":-86},{"x":36,"y":-84.6},{"x":38,"y":-83.7},{"x":40,"y":-83.3},{"x":42,"y":-83.2},{"x":44,"y":-83.6},{"x":46,"y":-84.5},{"x":48,"y":-85.8},{"x":50,"y":-87.2},{"x":52,"y":-88.3},{"x":54,"y":-88.4},{"x":56,"y":-87.2},{"x":58,"y":-85.8},{"x":60,"y":-84.9},{"x":62,"y":-84.4},{"x":64,"y":-84.3},{"x":66,"y":-84.7},{"x":68,"y":-85.7},{"x":70,"y":-87.3},{"x":72,"y":-89.2},{"x":74,"y":-90.8},{"x":76,"y":-91},{"x":78,"y":-89.3},{"x":80,"y":-87.1},{"x":82,"y":-85.7},{"x":84,"y":-84.9},{"x":86,"y":-84.7},{"x":88,"y":-85.1},{"x":90,"y":-86.2},{"x":92,"y":-88},{"x":94,"y":-90.3},{"x":96,"y":-92.8},{"x":98,"y":-94.7},{"x":100,"y":-94.9},{"x":102,"y":-92},{"x":104,"y":-88.6},{"x":106,"y":-86.4},{"x":108,"y":-85.1},{"x":110,"y":-84.5},{"x":112,"y":-84.5},{"x":114,"y":-85},{"x":116,"y":-86.3},{"x":118,"y":-88.4},{"x":120,"y":-91.5},{"x":122,"y":-95.3},{"x":124,"y":-98.6},{"x":125,"y":-98.8},{"x":126,"y":-96.5},{"x":128,"y":-91},{"x":130,"y":-87.3},{"x":132,"y":-84.9},{"x":134,"y":-83.6},{"x":136,"y":-83.1},{"x":138,"y":-83.2},{"x":140,"y":-84},{"x":142,"y":-85.7},{"x":144,"y":-88.4},{"x":146,"y":-92.5},{"x":148,"y":-98.5},{"x":149.5,"y":-103.3},{"x":151,"y":-97},{"x":152,"y":-93},{"x":154,"y":-87.2},{"x":156,"y":-83.6},{"x":158,"y":-81.2},{"x":160,"y":-79.8},{"x":162,"y":-79.1},{"x":164,"y":-78.9},{"x":166,"y":-79.2},{"x":168,"y":-80.3},{"x":170,"y":-82.3},{"x":172,"y":-85.3},{"x":174,"y":-89.5},{"x":176,"y":-95},{"x":178,"y":-102.5},{"x":179,"y":-106},{"x":180,"y":-110},
{"x":181,"y":-106},{"x":182,"y":-102.5},{"x":184,"y":-95},{"x":186,"y":-89.5},{"x":188,"y":-85.3},{"x":190,"y":-82.3},{"x":192,"y":-80.3},{"x":194,"y":-79.2},{"x":196,"y":-78.9},{"x":198,"y":-79.1},{"x":200,"y":-79.8},{"x":202,"y":-81.2},{"x":204,"y":-83.6},{"x":206,"y":-87.2},{"x":208,"y":-93},{"x":209,"y":-97},{"x":210.5,"y":-103.3},{"x":212,"y":-98.5},{"x":214,"y":-92.5},{"x":216,"y":-88.4},{"x":218,"y":-85.7},{"x":220,"y":-84},{"x":222,"y":-83.2},{"x":224,"y":-83.1},{"x":226,"y":-83.6},{"x":228,"y":-84.9},{"x":230,"y":-87.3},{"x":232,"y":-91},{"x":234,"y":-96.5},{"x":235,"y":-98.8},{"x":236,"y":-98.6},{"x":238,"y":-95.3},{"x":240,"y":-91.5},{"x":242,"y":-88.4},{"x":244,"y":-86.3},{"x":246,"y":-85},{"x":248,"y":-84.5},{"x":250,"y":-84.5},{"x":252,"y":-85.1},{"x":254,"y":-86.4},{"x":256,"y":-88.6},{"x":258,"y":-92},{"x":260,"y":-94.9},{"x":262,"y":-94.7},{"x":264,"y":-92.8},{"x":266,"y":-90.3},{"x":268,"y":-88},{"x":270,"y":-86.2},{"x":272,"y":-85.1},{"x":274,"y":-84.7},{"x":276,"y":-84.9},{"x":278,"y":-85.7},{"x":280,"y":-87.1},{"x":282,"y":-89.3},{"x":284,"y":-91},{"x":286,"y":-90.8},{"x":288,"y":-89.2},{"x":290,"y":-87.3},{"x":292,"y":-85.7},{"x":294,"y":-84.7},{"x":296,"y":-84.3},{"x":298,"y":-84.4},{"x":300,"y":-84.9},{"x":302,"y":-85.8},{"x":304,"y":-87.2},{"x":306,"y":-88.4},{"x":308,"y":-88.3},{"x":310,"y":-87.2},{"x":312,"y":-85.8},{"x":314,"y":-84.5},{"x":316,"y":-83.6},{"x":318,"y":-83.2},{"x":320,"y":-83.3},{"x":322,"y":-83.7},{"x":324,"y":-84.6},{"x":326,"y":-86},{"x":328,"y":-88},{"x":330,"y":-89},{"x":332,"y":-87.8},{"x":334,"y":-85.8},{"x":336,"y":-83.7},{"x":338,"y":-81.8},{"x":340,"y":-80.3},{"x":342,"y":-79.2},{"x":344,"y":-78.6},{"x":346,"y":-78.4},{"x":348,"y":-78.6},{"x":350,"y":-79.1},{"x":352,"y":-80.2},{"x":354,"y":-82},{"x":356,"y":-85},{"x":357,"y":-87.5},{"x":358,"y":-91},{"x":359,"y":-97},{"x":360,"y":-110}]
},
"columns":2,
"spacing":{"row":62,"column":207},
"bounds":"flush",
"resolve":{"scale":{"color":"independent","x":"independent","y":"independent"}},
"concat":[
{"width":245,"height":230,"layer":[
{"data":{"name":"aE"},"mark":{"type":"line","stroke":"#e8452f","strokeWidth":0.6,"clip":true},"encoding":{"x":{"field":"x","type":"quantitative","scale":{"domain":[0,360],"nice":false},"axis":{"values":[0,60,120,180,240,300,360],"tickCount":20,"labelOverlap":false,"title":"Scattering angle /(°)"}},"y":{"field":"y","type":"quantitative","scale":{"domain":[-30,30],"nice":false},"axis":{"values":[-30,-20,-10,0,10,20,30],"tickCount":20,"labelOverlap":false,"title":"DSCS /dB"}},"color":{"datum":"electric plane","scale":{"domain":["electric plane","magnetic plane"],"range":["#ec6a55","#4a68bf"]},"legend":{"legendX":54,"legendY":22}}}},
{"data":{"name":"aE"},"mark":{"type":"point","shape":"M0,-1L0.24,-0.33L0.95,-0.31L0.38,0.12L0.59,0.81L0,0.4L-0.59,0.81L-0.38,0.12L-0.95,-0.31L-0.24,-0.33Z","size":22,"filled":false,"strokeWidth":0.7,"color":"#f4a08c","opacity":1,"clip":true},"encoding":{"x":{"field":"x","type":"quantitative"},"y":{"field":"y","type":"quantitative"}}},
{"data":{"name":"aM"},"mark":{"type":"line","stroke":"#3556b5","strokeWidth":0.6,"clip":true},"encoding":{"x":{"field":"x","type":"quantitative"},"y":{"field":"y","type":"quantitative"},"color":{"datum":"magnetic plane"}}},
{"data":{"name":"aM"},"mark":{"type":"point","shape":"circle","size":16,"filled":false,"strokeWidth":0.8,"color":"#a3b3e4","opacity":1,"clip":true},"encoding":{"x":{"field":"x","type":"quantitative"},"y":{"field":"y","type":"quantitative"}}},
{"mark":{"type":"text","align":"left","baseline":"middle","fontSize":18,"font":"DejaVu Serif","color":"#111"},"encoding":{"x":{"datum":9,"type":"quantitative"},"y":{"datum":25.3,"type":"quantitative"},"text":{"value":"(a)"}}}
]},
{"width":245,"height":230,"layer":[
{"data":{"name":"bE"},"mark":{"type":"line","stroke":"#e8452f","strokeWidth":0.6,"clip":true},"encoding":{"x":{"field":"x","type":"quantitative","scale":{"domain":[0,360],"nice":false},"axis":{"values":[0,60,120,180,240,300,360],"tickCount":20,"labelOverlap":false,"title":"Scattering angle /(°)"}},"y":{"field":"y","type":"quantitative","scale":{"domain":[-40,20],"nice":false},"axis":{"values":[-40,-30,-20,-10,0,10,20],"tickCount":20,"labelOverlap":false,"title":"DSCS /dB"}},"color":{"datum":"electric plane","scale":{"domain":["electric plane","magnetic plane"],"range":["#ec6a55","#4a68bf"]},"legend":{"legendX":47,"legendY":22}}}},
{"data":{"name":"bE"},"mark":{"type":"point","shape":"M0,-1L0.24,-0.33L0.95,-0.31L0.38,0.12L0.59,0.81L0,0.4L-0.59,0.81L-0.38,0.12L-0.95,-0.31L-0.24,-0.33Z","size":22,"filled":false,"strokeWidth":0.7,"color":"#f4a08c","opacity":1,"clip":true},"encoding":{"x":{"field":"x","type":"quantitative"},"y":{"field":"y","type":"quantitative"}}},
{"data":{"name":"bM"},"mark":{"type":"line","stroke":"#3556b5","strokeWidth":0.6,"clip":true},"encoding":{"x":{"field":"x","type":"quantitative"},"y":{"field":"y","type":"quantitative"},"color":{"datum":"magnetic plane"}}},
{"data":{"name":"bM"},"mark":{"type":"point","shape":"circle","size":16,"filled":false,"strokeWidth":0.8,"color":"#a3b3e4","opacity":1,"clip":true},"encoding":{"x":{"field":"x","type":"quantitative"},"y":{"field":"y","type":"quantitative"}}},
{"mark":{"type":"text","align":"left","baseline":"middle","fontSize":18,"font":"DejaVu Serif","color":"#111"},"encoding":{"x":{"datum":7,"type":"quantitative"},"y":{"datum":15.2,"type":"quantitative"},"text":{"value":"(b)"}}}
]},
{"width":245,"height":230,"layer":[
{"data":{"name":"cE"},"mark":{"type":"line","stroke":"#e8452f","strokeWidth":0.6,"clip":true},"encoding":{"x":{"field":"x","type":"quantitative","scale":{"domain":[0,360],"nice":false},"axis":{"values":[0,60,120,180,240,300,360],"tickCount":20,"labelOverlap":false,"title":"Scattering angle /(°)"}},"y":{"field":"y","type":"quantitative","scale":{"domain":[-110,-50],"nice":false},"axis":{"values":[-110,-100,-90,-80,-70,-60,-50],"tickCount":20,"labelOverlap":false,"title":"DSCS /dB"}},"color":{"datum":"electric plane","scale":{"domain":["electric plane","magnetic plane"],"range":["#ec6a55","#4a68bf"]},"legend":{"legendX":54,"legendY":24}}}},
{"data":{"name":"cE"},"mark":{"type":"point","shape":"M0,-1L0.24,-0.33L0.95,-0.31L0.38,0.12L0.59,0.81L0,0.4L-0.59,0.81L-0.38,0.12L-0.95,-0.31L-0.24,-0.33Z","size":22,"filled":false,"strokeWidth":0.7,"color":"#f4a08c","opacity":1,"clip":true},"encoding":{"x":{"field":"x","type":"quantitative"},"y":{"field":"y","type":"quantitative"}}},
{"data":{"name":"cM"},"mark":{"type":"line","stroke":"#3556b5","strokeWidth":0.6,"clip":true},"encoding":{"x":{"field":"x","type":"quantitative"},"y":{"field":"y","type":"quantitative"},"color":{"datum":"magnetic plane"}}},
{"data":{"name":"cM"},"mark":{"type":"point","shape":"circle","size":16,"filled":false,"strokeWidth":0.8,"color":"#a3b3e4","opacity":1,"clip":true},"encoding":{"x":{"field":"x","type":"quantitative"},"y":{"field":"y","type":"quantitative"}}},
{"mark":{"type":"text","align":"left","baseline":"middle","fontSize":18,"font":"DejaVu Serif","color":"#111"},"encoding":{"x":{"datum":7,"type":"quantitative"},"y":{"datum":-54.3,"type":"quantitative"},"text":{"value":"(c)"}}}
]},
{"width":245,"height":230,"layer":[
{"data":{"name":"d"},"mark":{"type":"line","stroke":"#e8452f","strokeWidth":0.6,"strokeOpacity":0,"clip":true},"encoding":{"x":{"field":"x","type":"quantitative","scale":{"domain":[0,360],"nice":false},"axis":{"values":[0,60,120,180,240,300,360],"tickCount":20,"labelOverlap":false,"title":"Scattering angle /(°)"}},"y":{"field":"y","type":"quantitative","scale":{"domain":[-110,-60],"nice":false},"axis":{"values":[-110,-100,-90,-80,-70,-60],"tickCount":20,"labelOverlap":false,"title":"DSCS /dB"}},"color":{"datum":"electric plane","scale":{"domain":["electric plane","magnetic plane"],"range":["#f29c8c","#4a68bf"]},"legend":{"legendX":47,"legendY":22}}}},
{"data":{"name":"d"},"mark":{"type":"line","stroke":"#3556b5","strokeWidth":0.6,"clip":true},"encoding":{"x":{"field":"x","type":"quantitative"},"y":{"field":"y","type":"quantitative"},"color":{"datum":"magnetic plane"}}},
{"data":{"name":"d"},"mark":{"type":"point","shape":"circle","size":16,"filled":false,"strokeWidth":0.8,"color":"#a3b3e4","opacity":1,"clip":true},"encoding":{"x":{"field":"x","type":"quantitative"},"y":{"field":"y","type":"quantitative"}}},
{"mark":{"type":"text","align":"left","baseline":"middle","fontSize":18,"font":"DejaVu Serif","color":"#111"},"encoding":{"x":{"datum":8.3,"type":"quantitative"},"y":{"datum":-63.7,"type":"quantitative"},"text":{"value":"(d)"}}}
]}
]
}
